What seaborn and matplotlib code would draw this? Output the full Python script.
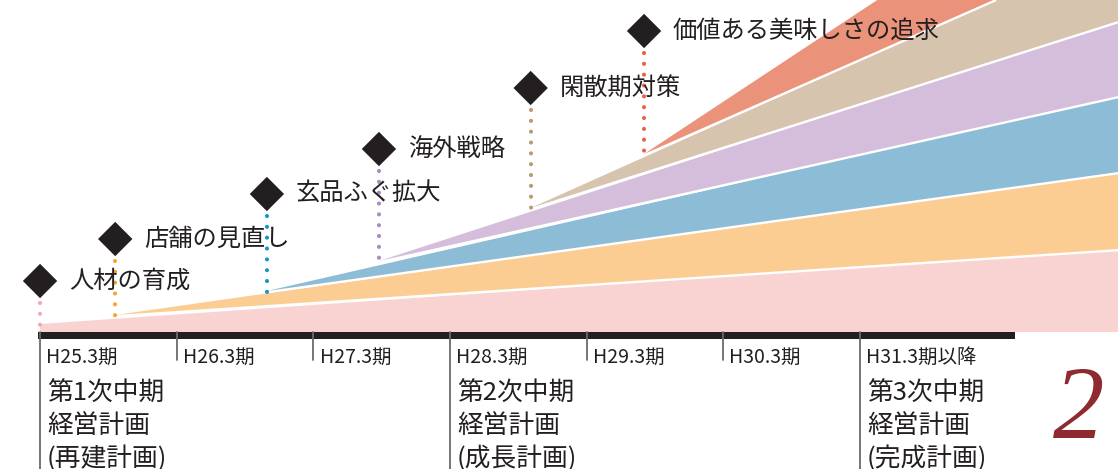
import matplotlib.pyplot as plt
import numpy as np
import seaborn as sns

# --- data (x in fiscal-period steps, y in chart height units) ---
periods = ['H25.3期', 'H26.3期', 'H27.3期', 'H28.3期', 'H29.3期', 'H30.3期', 'H31.3期以降']
plans = ['第1次中期\n経営計画\n(再建計画)', '第2次中期\n経営計画\n(成長計画)', '第3次中期\n経営計画\n(完成計画)']
plan_pos = [0, 3, 6]

themes = ['人材の育成', '店舗の見直し', '玄品ふぐ拡大', '海外戦略', '閑散期対策', '価値ある美味しさの追求']
start_x = [0.0, 0.55, 1.66, 2.48, 3.59, 4.42]
start_h = [8, 17, 41, 71, 124, 178]
end_top = [83, 160, 236, 311, 387, 491]
marker_h = [51, 93, 138, 183, 244, 301]

band_colors = ['#f9d3d2', '#fccd92', '#8dbcd6', '#d4bedc', '#d7c4ae', '#eb937a']
dot_colors = ['#f4a7b0', '#f5a42e', '#1596c3', '#a98ac2', '#b99a72', '#e8604b']
ink = '#231f20'

X_END = 7.888

sns.set_theme(style='white')
plt.rcParams['font.family'] = ['Noto Sans CJK JP', 'DejaVu Sans']

fig = plt.figure(figsize=(11.18, 4.69), dpi=100)
ax = fig.add_axes([0, 0, 1, 1])
ax.set_xlim(-0.293, X_END)
ax.set_ylim(-137, 332)
ax.axis('off')

# stacked wedges; white separator drawn under each band so the tips stay visible
for i in range(len(themes)):
    xs = [start_x[i], X_END]
    if i == 0:
        lo = [0, 0]
    else:
        lo = [start_h[i], end_top[i - 1]]
        ax.plot(xs, lo, color='white', lw=3.4, solid_capstyle='butt',
                zorder=2 + i * 0.1 - 0.05)
    hi = [start_h[i], end_top[i]]
    ax.fill_between(xs, lo, hi, facecolor=band_colors[i], edgecolor='none',
                    linewidth=0, zorder=2 + i * 0.1)

# dotted connectors + diamond markers + labels
for i, name in enumerate(themes):
    ax.plot([start_x[i], start_x[i]], [marker_h[i] - 22, start_h[i] - 1.5],
            color=dot_colors[i], lw=3.0, linestyle=(0, (0.001, 2.6)),
            dash_capstyle='round', zorder=4)
    ax.text(start_x[i] + 0.21, marker_h[i], name, fontsize=17.5, color=ink,
            va='center', ha='left', zorder=5)

sns.scatterplot(x=start_x, y=marker_h, marker='D', s=17.5 ** 2, color=ink,
                edgecolor='none', ax=ax, zorder=5)

# timeline bar
ax.fill_between([-0.015, 7.134], -7, 0, color=ink, linewidth=0, zorder=6)
for k, lab in enumerate(periods):
    bottom = -137 if k in plan_pos else -28
    ax.plot([k, k], [0, bottom], color='#6a6a6a', lw=1.3, zorder=7)
    ax.text(k + 0.045, -25, lab, fontsize=14, color=ink, va='center', ha='left')

for pos, txt in zip(plan_pos, plans):
    ax.text(pos + 0.05, -49, txt, fontsize=18.5, color=ink, va='top', ha='left',
            linespacing=1.3)

ax.text(7.6, -81, '2', fontsize=74, color='#8e2a30', style='italic',
        family='Liberation Serif', ha='center', va='center')

fig.savefig('out.png', dpi=100)
